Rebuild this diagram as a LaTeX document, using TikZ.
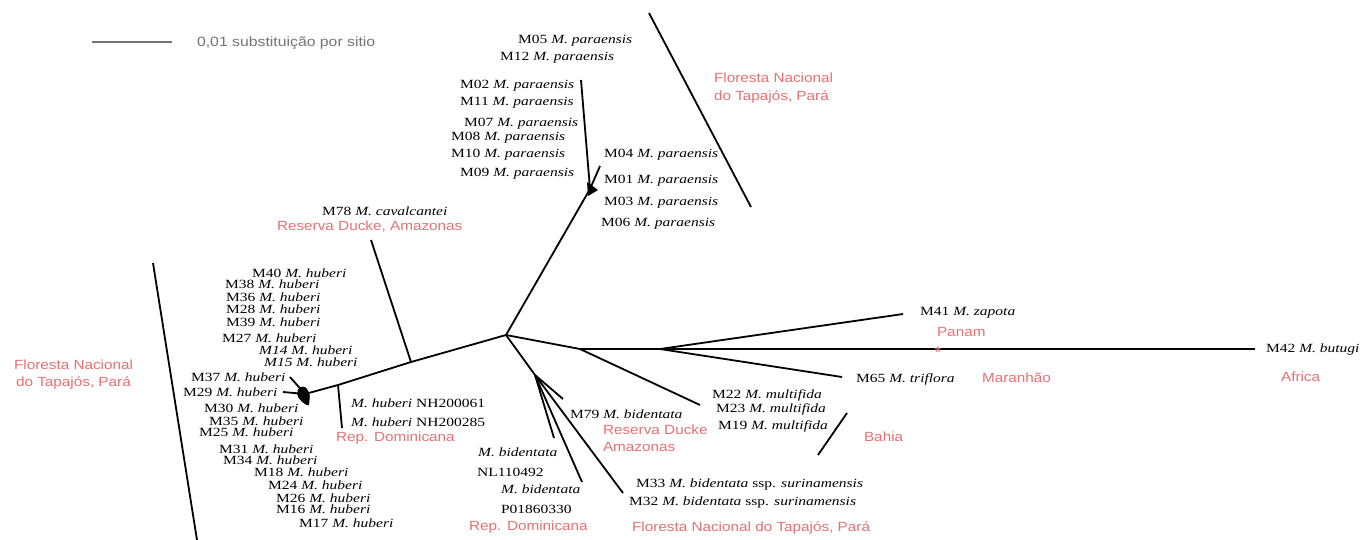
\documentclass[tikz,border=0pt]{standalone}
\usepackage{fontspec}
\setmainfont{Liberation Serif}
\setsansfont{Liberation Sans}
\definecolor{red2}{RGB}{232, 112, 112}
\definecolor{gray1}{RGB}{115, 115, 115}
\tikzset{
  taxon/.style={anchor=west, inner sep=0pt, xscale=1.24, font=\fontsize{12.5}{13}\selectfont},
  place/.style={anchor=west, inner sep=0pt, xscale=1.15, text=red2, font=\sffamily\fontsize{13.3}{14}\selectfont},
  bar/.style={line width=1.8pt}
}

\begin{document}
\begin{tikzpicture}[x=1pt, y=-1pt, line width=1.8pt]
\useasboundingbox (0,0) rectangle (1363,539);

% scale bar
\coordinate (s1) at (92,42);
\coordinate (s2) at (172,42);
\draw[gray1, line width=1.5pt] (s1) -- (s2);
\node[anchor=west, inner sep=0pt, xscale=1.17, text=gray1, font=\sffamily\fontsize{13.5}{14}\selectfont] (scl) at (196,43) {0,01 substituição por sitio};

% inner nodes of the tree
\coordinate (r) at (506,335);
\coordinate (p) at (590,189);
\coordinate (m78j) at (411,362);
\coordinate (repj) at (338,385);
\coordinate (h) at (305,394);
\coordinate (mj) at (580,349);
\coordinate (zj) at (660,349);
\coordinate (bj) at (535,375);
% tips
\coordinate (p1) at (581,80);
\coordinate (p2) at (600,166);
\coordinate (t78) at (371,240);
\coordinate (trep) at (342,428);
\coordinate (h37) at (290,377);
\coordinate (h29) at (283,392);
\coordinate (tmul) at (700,405);
\coordinate (t41) at (903,314);
\coordinate (t42) at (1255,349);
\coordinate (t65) at (842,377);
\coordinate (tsur) at (623,493);
\coordinate (t79) at (563,399);
\coordinate (tnl) at (554,438);
\coordinate (tp) at (582,482);

\foreach \from/\to in {r/p, p/p1, p/p2, r/m78j, m78j/repj, repj/h, m78j/t78, repj/trep,
  h/h37, h/h29, r/mj, mj/zj, mj/tmul, zj/t41, zj/t42, zj/t65,
  r/bj, bj/tsur, bj/t79, bj/tnl, bj/tp}
  \draw (\from) -- (\to);
\fill (587,182) -- (598,190) -- (588,196) -- cycle;
\fill[rounded corners=2pt] (298,388) -- (305,386) -- (310,394) -- (309,406) -- (303,403) -- (297,396) -- cycle;

% region bars
\coordinate (b1a) at (649,13);
\coordinate (b1b) at (751,207);
\coordinate (b2a) at (153,263);
\coordinate (b2b) at (197,540);
\coordinate (b3a) at (818,455);
\coordinate (b3b) at (847,413);
\foreach \from/\to in {b1a/b1b, b2a/b2b, b3a/b3b}
  \draw[bar] (\from) -- (\to);

% M. paraensis
\node[taxon] (n05) at (517,41) {M05 \textit{M. paraensis}};
\node[taxon] (n12) at (499,58) {M12 \textit{M. paraensis}};
\node[taxon] (n02) at (459,86) {M02 \textit{M. paraensis}};
\node[taxon] (n11) at (459,103) {M11 \textit{M. paraensis}};
\node[taxon] (n07) at (463,124) {M07 \textit{M. paraensis}};
\node[taxon] (n08) at (450,138) {M08 \textit{M. paraensis}};
\node[taxon] (n10) at (450,155) {M10 \textit{M. paraensis}};
\node[taxon] (n09) at (459,174) {M09 \textit{M. paraensis}};
\node[taxon] (n04) at (603,155) {M04 \textit{M. paraensis}};
\node[taxon] (n01) at (603,181) {M01 \textit{M. paraensis}};
\node[taxon] (n03) at (603,203) {M03 \textit{M. paraensis}};
\node[taxon] (n06) at (600,224) {M06 \textit{M. paraensis}};
\node[place] (pl1) at (713,78) {Floresta Nacional};
\node[place] (pl2) at (713,97) {do Tapajós, Pará};

% M. cavalcantei
\node[taxon] (n78) at (321,211) {M78 \textit{M. cavalcantei}};
\node[place] (pl3) at (276,227) {Reserva Ducke, Amazonas};

% M. huberi
\foreach \id/\x/\y in {40/251/273, 38/224/284, 36/225/297, 28/225/309, 39/225/322,
  27/221/338, 37/190/377, 29/182/392, 30/203/408, 35/208/421,
  25/198/432, 31/218/449, 34/222/460, 18/253/472, 24/267/485, 26/275/498,
  16/275/509, 17/298/523}
  \node[taxon] (n\id) at (\x,\y) {M\id{} \textit{M. huberi}};
\node[taxon] (n14) at (258,350) {\textit{M14 M. huberi}};
\node[taxon] (n15) at (263,362) {\textit{M15 M. huberi}};
\node[place] (pl4) at (13,365) {Floresta Nacional};
\node[place] (pl5) at (15,383) {do Tapajós, Pará};
\node[taxon] (nh1) at (350,403) {\textit{M. huberi} NH200061};
\node[taxon] (nh2) at (350,422) {\textit{M. huberi} NH200285};
\node[place] (pl6) at (335,438) {Rep. Dominicana};

% M. bidentata
\node[taxon] (nb1) at (477,452) {\textit{M. bidentata}};
\node[taxon] (nb2) at (476,472) {NL110492};
\node[taxon] (nb3) at (500,489) {\textit{M. bidentata}};
\node[taxon] (nb4) at (500,509) {P01860330};
\node[place] (pl7) at (468,527) {Rep. Dominicana};
\node[taxon] (n79) at (569,414) {M79 \textit{M. bidentata}};
\node[place] (pl8) at (602,430) {Reserva Ducke};
\node[place] (pl9) at (602,447) {Amazonas};
\node[taxon] (n33) at (635,484) {M33 \textit{M. bidentata} ssp. \textit{surinamensis}};
\node[taxon] (n32) at (628,502) {M32 \textit{M. bidentata} ssp. \textit{surinamensis}};
\node[place] (pl10) at (631,528) {Floresta Nacional do Tapajós, Pará};

% M. multifida
\node[taxon] (n22) at (711,395) {M22 \textit{M. multifida}};
\node[taxon] (n23) at (715,409) {M23 \textit{M. multifida}};
\node[taxon] (n19) at (717,426) {M19 \textit{M. multifida}};
\node[place] (pl11) at (863,437) {Bahia};

% outgroups
\node[taxon] (n41) at (919,313) {M41 \textit{M. zapota}};
\node[place] (pl12) at (936,332) {Panam};
\node[text=red2, inner sep=0pt, font=\sffamily\fontsize{17}{17}\selectfont] (st) at (938,353) {*};
\node[taxon] (n65) at (855,379) {M65 \textit{M. triflora}};
\node[place] (pl13) at (981,378) {Maranhão};
\node[taxon] (n42) at (1265,349) {M42 \textit{M. butugi}};
\node[place] (pl14) at (1280,377) {Africa};
\end{tikzpicture}
\end{document}
